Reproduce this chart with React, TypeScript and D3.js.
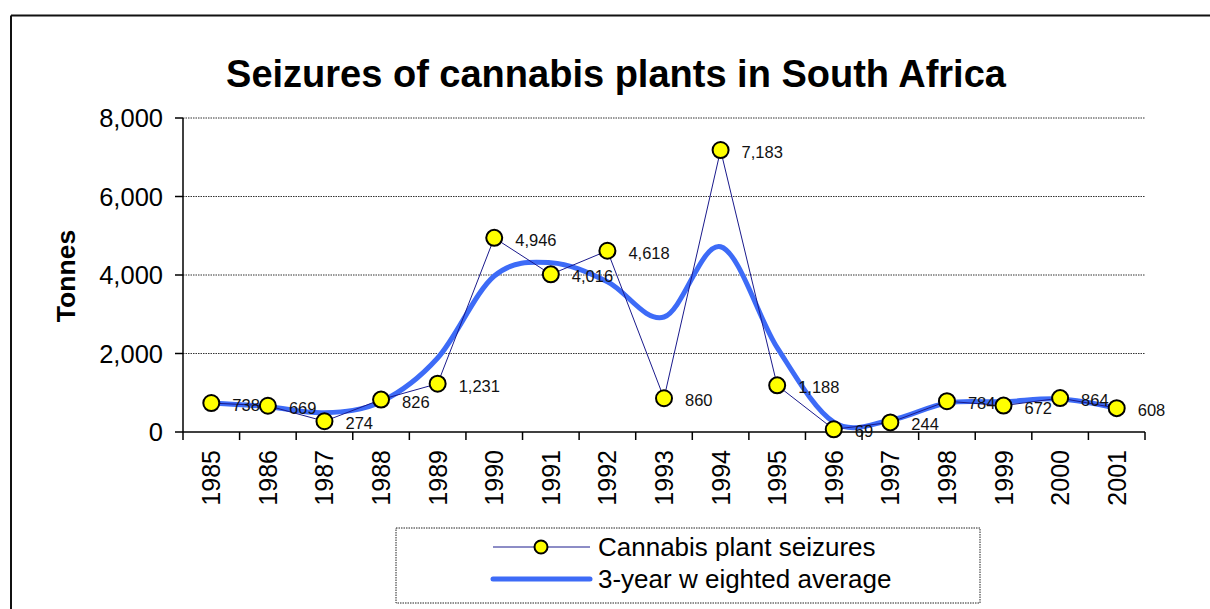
import React from "react";
import * as d3 from "d3";

const years = ["1985","1986","1987","1988","1989","1990","1991","1992","1993","1994","1995","1996","1997","1998","1999","2000","2001"];
const seizures = [738, 669, 274, 826, 1231, 4946, 4016, 4618, 860, 7183, 1188, 69, 244, 784, 672, 864, 608];
const weightedAvg = [738, 645, 490, 772, 1885, 3975, 4314, 3830, 2930, 4720, 2150, 250, 300, 740, 770, 840, 608];
const yTicks = [0, 2000, 4000, 6000, 8000];
const title = "Seizures of cannabis plants in South Africa";
const yTitle = "Tonnes";
const legendLabels = ["Cannabis plant seizures", "3-year w eighted average"];

const W = 1210, H = 609;
const plot = { left: 183, right: 1145, top: 118, bottom: 432 };
const FONT = "Arial, 'Liberation Sans', sans-serif";
const AVG_COLOR = "#3d6bf7";
const SERIES_COLOR = "#1a1a8c";

export default function App() {
  const x = d3.scaleBand<string>().domain(years).range([plot.left, plot.right]).padding(0);
  const y = d3.scaleLinear().domain([0, 8000]).range([plot.bottom, plot.top]);
  const cx = (i: number) => (x(years[i]) as number) + x.bandwidth() / 2;
  const fmt = d3.format(",");

  const avgLine = d3.line<number>().x((_, i) => cx(i)).y((d) => y(d)).curve(d3.curveCardinal.tension(0));
  const serLine = d3.line<number>().x((_, i) => cx(i)).y((d) => y(d));

  const boundaries = years.map((yr) => x(yr) as number).concat([plot.right]);

  return (
    <svg width={W} height={H} style={{ position: "absolute", left: 0, top: 0, background: "#fff" }} fontFamily={FONT}>
      {/* outer border */}
      <line x1={11} y1={15.5} x2={W} y2={15.5} stroke="#111" strokeWidth={2} />
      <line x1={11} y1={15.5} x2={11} y2={H} stroke="#111" strokeWidth={2} />

      <text x={616} y={87} textAnchor="middle" fontSize={38} fontWeight="bold" fill="#000">{title}</text>

      {/* gridlines */}
      {yTicks.filter((t) => t > 0).map((t) => (
        <line key={t} x1={plot.left} x2={plot.right} y1={y(t)} y2={y(t)} stroke="#333" strokeWidth={1} strokeDasharray="1.5 1" />
      ))}

      {/* y axis */}
      <line x1={plot.left} x2={plot.left} y1={plot.top} y2={plot.bottom} stroke="#000" strokeWidth={1.5} />
      {yTicks.map((t) => (
        <g key={t}>
          <line x1={plot.left - 8} x2={plot.left} y1={y(t)} y2={y(t)} stroke="#000" strokeWidth={1.5} />
          <text x={163} y={y(t)} dy="0.36em" textAnchor="end" fontSize={25.5} fill="#000">{fmt(t)}</text>
        </g>
      ))}
      <text transform={`translate(75,${(plot.top + plot.bottom) / 2 + 1}) rotate(-90)`} textAnchor="middle" fontSize={26.5} fontWeight="bold" fill="#000">{yTitle}</text>

      {/* x axis */}
      <line x1={plot.left} x2={plot.right} y1={plot.bottom} y2={plot.bottom} stroke="#000" strokeWidth={1.5} />
      {boundaries.map((b, i) => (
        <line key={i} x1={b} x2={b} y1={plot.bottom} y2={plot.bottom + 8} stroke="#000" strokeWidth={1.5} />
      ))}
      {years.map((yr, i) => (
        <text key={yr} transform={`translate(${cx(i)},450) rotate(-90)`} dy="0.36em" textAnchor="end" fontSize={25} fill="#000">{yr}</text>
      ))}

      {/* weighted average */}
      <path d={avgLine(weightedAvg) as string} fill="none" stroke={AVG_COLOR} strokeWidth={5} strokeLinejoin="round" />
      {/* seizures */}
      <path d={serLine(seizures) as string} fill="none" stroke={SERIES_COLOR} strokeWidth={1} />
      {seizures.map((v, i) => (
        <text key={"l" + i} x={cx(i) + 21} y={y(v) + 2} dy="0.36em" fontSize={16.5} fill="#111">{fmt(v)}</text>
      ))}
      {seizures.map((v, i) => (
        <circle key={"c" + i} cx={cx(i)} cy={y(v)} r={8} fill="#ffff00" stroke="#000" strokeWidth={2} />
      ))}

      {/* legend */}
      <rect x={396} y={528} width={584} height={75} fill="none" stroke="#222" strokeWidth={1} strokeDasharray="1.5 1" />
      <line x1={493} x2={590} y1={547} y2={547} stroke={SERIES_COLOR} strokeWidth={1} />
      <circle cx={541} cy={547} r={6.5} fill="#ffff00" stroke="#000" strokeWidth={2} />
      <text x={598} y={547} dy="0.36em" fontSize={26} fill="#000">{legendLabels[0]}</text>
      <line x1={493} x2={590} y1={579} y2={579} stroke={AVG_COLOR} strokeWidth={5} strokeLinecap="round" />
      <text x={598} y={579} dy="0.36em" fontSize={26} fill="#000">{legendLabels[1]}</text>
    </svg>
  );
}
